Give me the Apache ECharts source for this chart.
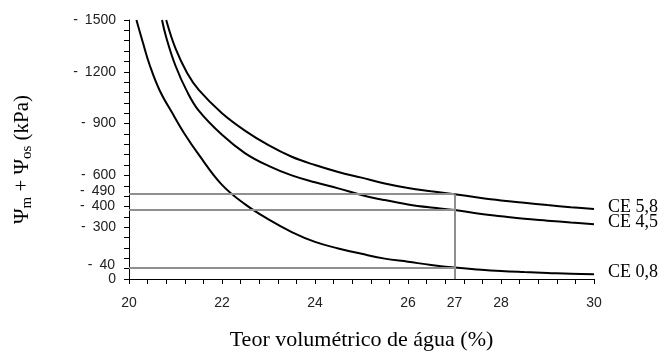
<!DOCTYPE html>
<html>
<head>
<meta charset="utf-8">
<script src="https://cdn.jsdelivr.net/npm/echarts@6/dist/echarts.min.js"></script>
<style>html,body{margin:0;padding:0;background:#fff;}#c{width:667px;height:352px;}</style>
</head>
<body>
<div id="c"></div>
<script>
// ---- data ----
var seriesNames = ['CE 5,8', 'CE 4,5', 'CE 0,8'];
var x58 = [20.8, 21.0, 21.25, 21.5, 22.0, 22.5, 23.0, 23.5, 24.0, 24.5, 25.0, 25.5, 26.0, 26.5, 27.0, 27.5, 28.0, 28.5, 29.0, 29.5, 30.0];
var y58 = [1500, 1335, 1193, 1095, 960, 858, 775, 708, 660, 620, 587, 553, 527, 508, 491, 472, 455, 441, 428, 416, 405];
var x45 = [20.71, 20.8, 21.0, 21.25, 21.5, 22.0, 22.5, 23.0, 23.5, 24.0, 24.5, 25.0, 25.5, 26.0, 26.5, 27.0, 27.5, 28.0, 28.5, 29.0, 29.5, 30.0];
var y45 = [1500, 1400, 1235, 1085, 975, 835, 728, 655, 600, 560, 525, 487, 457, 432, 414, 400, 380, 364, 349, 338, 327, 317];
var x08 = [20.16, 20.3, 20.45, 20.66, 20.95, 21.2, 21.5, 22.0, 22.5, 23.0, 23.5, 24.0, 24.5, 25.0, 25.5, 26.0, 26.5, 27.0, 27.5, 28.0, 28.5, 29.0, 29.5, 30.0];
var y08 = [1500, 1368, 1235, 1092, 952, 838, 720, 545, 432, 345, 272, 215, 177, 146, 118, 100, 81, 66, 55, 46, 40, 35, 30, 28];
var xLabelValues = [20, 22, 24, 26, 27, 28, 30];
var yLabelValues = [0, 300, 600, 900, 1200, 1500];
var refX = 27;
var refValues = [491, 402, 64];
var refLabels = ['-\u2002490', '-\u2002400', '-\u200240'];

function zip(xs, ys) { return xs.map(function (v, i) { return [v, ys[i]]; }); }

var chart = echarts.init(document.getElementById('c'), null, { renderer: 'canvas' });

var refLineData = refValues.map(function (v, i) {
  return [
    { coord: [20, v], label: { formatter: refLabels[i] } },
    { coord: [refX, v] }
  ];
});
refLineData.push([{ coord: [refX, 0], label: { show: false } }, { coord: [refX, refValues[0]] }]);

var lineStyleBlack = { color: '#000', width: 2 };
var endLabelStyle = {
  show: true, formatter: '{a}', distance: 14, offset: [0, -2],
  fontFamily: 'Liberation Serif', fontSize: 18, color: '#000'
};

var series = [
  { name: seriesNames[0], data: zip(x58, y58) },
  { name: seriesNames[1], data: zip(x45, y45) },
  { name: seriesNames[2], data: zip(x08, y08) }
].map(function (s) {
  return {
    name: s.name, type: 'line', data: s.data, smooth: 0.4, symbol: 'none',
    lineStyle: lineStyleBlack, itemStyle: { color: '#000' },
    endLabel: endLabelStyle, z: 3, animation: false
  };
});

series.push({
  type: 'line', data: [], silent: true, animation: false,
  markLine: {
    silent: true, symbol: 'none', animation: false,
    lineStyle: { color: '#8f8f8f', width: 2, type: 'solid' },
    label: {
      show: true, position: 'start', distance: 14, offset: [0, -3],
      fontFamily: 'Liberation Sans', fontSize: 14, color: '#222'
    },
    emphasis: { disabled: true },
    data: refLineData
  },
  z: 2
});

chart.setOption({
  animation: false,
  backgroundColor: '#fff',
  grid: { left: 129, right: 73, top: 20, bottom: 73, containLabel: false, outerBoundsMode: 'none' },
  xAxis: {
    type: 'value', min: 20, max: 30, interval: 0.4,
    name: 'Teor volumétrico de água (%)', nameLocation: 'middle', nameGap: 50,
    nameTextStyle: { fontFamily: 'Liberation Serif', fontSize: 22, color: '#000' },
    axisLine: { lineStyle: { color: '#000', width: 1 } },
    axisTick: { show: true, length: 5, inside: false, lineStyle: { color: '#000' } },
    splitLine: { show: false },
    axisLabel: {
      customValues: xLabelValues, margin: 17,
      fontFamily: 'Liberation Sans', fontSize: 14, color: '#222'
    }
  },
  yAxis: {
    type: 'value', min: 0, max: 1500, interval: 60,
    name: '{a|Ψ}{s|m}{a| + Ψ}{s|os}{a| (kPa)}', nameLocation: 'middle', nameGap: 94,
    nameTextStyle: {
      padding: [0, 20, 0, 0],
      rich: {
        a: { fontFamily: 'Liberation Serif', fontSize: 21, color: '#000' },
        s: { fontFamily: 'Liberation Serif', fontSize: 15, color: '#000', padding: [11, 0, 0, 0] }
      }
    },
    axisLine: { show: true, lineStyle: { color: '#000', width: 1 } },
    axisTick: { show: true, length: 5, inside: false, lineStyle: { color: '#000' } },
    splitLine: { show: false },
    axisLabel: {
      customValues: yLabelValues, margin: 13,
      fontFamily: 'Liberation Sans', fontSize: 14, color: '#222',
      formatter: function (v) { return v === 0 ? '0' : '-\u2002' + v; }
    }
  },
  series: series
});
</script>
</body>
</html>
